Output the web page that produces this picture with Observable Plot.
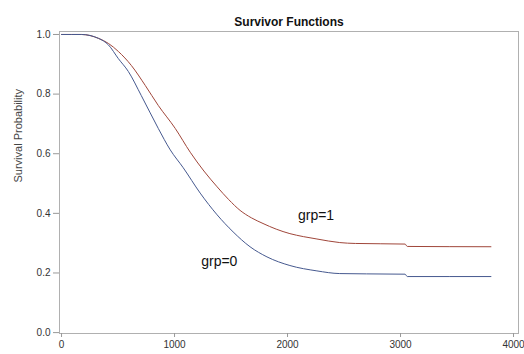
<!DOCTYPE html>
<html><head><meta charset="utf-8">
<script src="https://cdn.jsdelivr.net/npm/d3@7"></script>
<script src="https://cdn.jsdelivr.net/npm/@observablehq/plot@0.6"></script>
<style>body{margin:0;background:#fff;font-family:"Liberation Sans",Arial,sans-serif}</style>
</head><body><div id="chart"></div>
<script>
const title = "Survivor Functions";
const yLabel = "Survival Probability";
const xTicks = [0, 1000, 2000, 3000, 4000];
const yTicks = [0, 0.2, 0.4, 0.6, 0.8, 1.0];
const groups = ["grp=1", "grp=0"];
const colors = ["#a0463a", "#46598f"];

const t1 = [0,177,327,415,503,618,741,856,1006,1139,1260,1377,1480,1580,1680,1783,1900,2021,2140,2260,2462,2600,3040,3060,3800];
const s1 = [1.0,1.0,0.987,0.97,0.943,0.896,0.829,0.762,0.685,0.605,0.542,0.489,0.446,0.41,0.385,0.366,0.347,0.332,0.322,0.314,0.302,0.299,0.297,0.289,0.288];
const t0 = [0,177,327,415,503,591,706,856,962,1077,1227,1377,1518,1668,1818,2021,2260,2462,2700,3040,3060,3800];
const s0 = [1.0,1.0,0.987,0.965,0.919,0.876,0.795,0.685,0.613,0.553,0.468,0.395,0.338,0.288,0.254,0.225,0.207,0.198,0.197,0.196,0.188,0.188];

const labelX = [2092, 1236];
const labelY = [0.393, 0.24];

const rows = [
  ...t1.map((t, i) => ({t, s: s1[i], g: groups[0]})),
  ...t0.map((t, i) => ({t, s: s0[i], g: groups[1]}))
];
const labels = groups.map((g, i) => ({g, t: labelX[i], s: labelY[i]}));

const chart = Plot.plot({
  width: 524, height: 354,
  marginLeft: 59, marginRight: 6, marginTop: 31, marginBottom: 21,
  style: {fontFamily: '"Liberation Sans", Arial, sans-serif', fontSize: "10px", color: "#333", background: "#fff"},
  x: {domain: [-18, 4044], label: null},
  y: {domain: [-0.003, 1.01], label: null},
  color: {domain: groups, range: colors},
  marks: [
    Plot.frame({stroke: "#b0b0b0"}),
    Plot.axisX({ticks: xTicks, tickFormat: d3.format("d"), tickSize: 4, tickPadding: 3, stroke: "#999", color: "#333", label: null}),
    Plot.axisY({ticks: yTicks, tickFormat: d3.format(".1f"), tickSize: 6, tickPadding: 3, stroke: "#999", color: "#333", label: null}),
    Plot.line(rows, {x: "t", y: "s", z: "g", stroke: "g", strokeWidth: 1, curve: "monotone-x"}),
    Plot.text(labels, {x: "t", y: "s", text: "g", textAnchor: "start", fontSize: 14, fill: "#111"}),
    Plot.text([title], {frameAnchor: "top", dy: -14, fontSize: 12, fontWeight: "bold", fill: "#111"}),
    Plot.text([yLabel], {frameAnchor: "left", dx: -41, rotate: -90, fontSize: 11, fill: "#444"})
  ]
});
document.getElementById("chart").appendChild(chart);
</script></body></html>
